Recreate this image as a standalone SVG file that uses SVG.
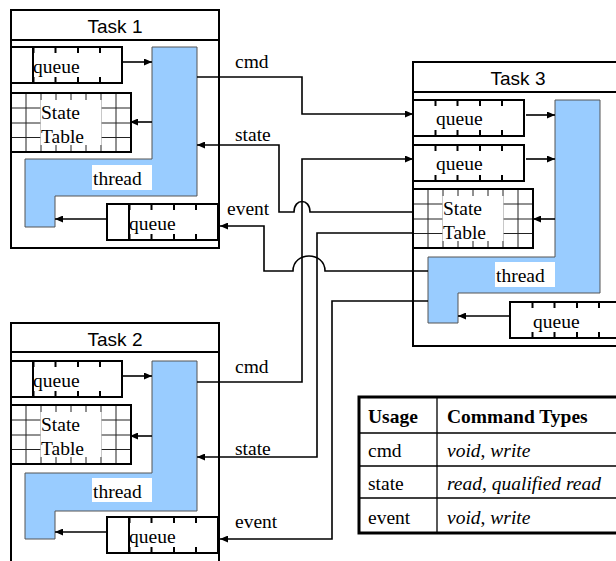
<svg xmlns="http://www.w3.org/2000/svg" xmlns:xlink="http://www.w3.org/1999/xlink" width="616" height="561" viewBox="0 0 616 561">
  <style>
    .box { fill: #fff; stroke: #000; stroke-width: 2; }
    .frame { fill: none; stroke: #000; stroke-width: 2; }
    .title { font-family: "Liberation Sans", Arial, sans-serif; font-size: 19px; text-anchor: middle; fill: #000; }
    .lbl { font-family: "Liberation Serif", "Times New Roman", serif; font-size: 19.5px; fill: #000; }
    .bold { font-weight: bold; }
    .it { font-style: italic; }
    .thread { fill: #99ccff; stroke: #555; stroke-width: 1; }
    .wbg { fill: #fff; stroke: none; }
    .grid { stroke: #222; stroke-width: 1; }
    .tick { stroke: #000; stroke-width: 2; }
    .conn { fill: none; stroke: #000; stroke-width: 1.6; }
  </style>
  <defs>
    <marker id="arrow" markerUnits="userSpaceOnUse" markerWidth="9" markerHeight="7" refX="8" refY="3.5" orient="auto">
      <path d="M0,0 L8,3.5 L0,7 z" fill="#000"/>
    </marker>
    <!-- queue: slotted buffer, 111 x 36 -->
    <g id="queue">
      <rect x="0" y="0" width="111" height="36" fill="#fff" stroke="#000" stroke-width="2"/>
      <path class="tick" d="M22.5,0 v6 M22.5,36 v-6 M44.5,0 v6 M44.5,36 v-6 M67,0 v6 M67,36 v-6 M89,0 v6 M89,36 v-6"/>
    </g>
    <!-- state table: grid, 120 x 59, with a clear centre for its caption -->
    <g id="stateTable">
      <rect x="0" y="0" width="120" height="59" fill="#fff"/>
      <path class="grid" d="M0,15 H120 M0,30 H120 M0,44.5 H120 M15,0 V59 M30,0 V59 M45,0 V59 M60,0 V59 M75,0 V59 M90,0 V59 M105,0 V59"/>
      <rect class="wbg" x="29.5" y="7" width="61" height="45"/>
      <rect x="0" y="0" width="120" height="59" fill="none" stroke="#000" stroke-width="2"/>
    </g>
  </defs>

  <rect width="616" height="561" fill="#fff"/>

  <!-- Task 1 -->
  <g id="task1">
    <rect class="box" x="11" y="10" width="208" height="238"/>
    <line x1="11" y1="40" x2="219" y2="40" stroke="#000" stroke-width="2"/>
    <text class="title" x="115" y="33">Task 1</text>
    <g id="task1-queue-in">
      <use xlink:href="#queue" x="11" y="47"/>
      <line x1="33" y1="47" x2="33" y2="83" stroke="#000" stroke-width="2"/>
      <text class="lbl" x="33" y="73">queue</text>
    </g>
    <g id="task1-table">
      <use xlink:href="#stateTable" x="11" y="93"/>
      <text class="lbl" x="41" y="119">State</text>
      <text class="lbl" x="41" y="143">Table</text>
    </g>
    <g id="task1-thread">
      <polygon class="thread" points="152,47 197,47 197,196 55,196 55,227 25,227 25,159 152,159"/>
      <rect class="wbg" x="92" y="165" width="60" height="25"/>
      <text class="lbl" x="93" y="185">thread</text>
    </g>
    <g id="task1-queue-out">
      <use xlink:href="#queue" x="107" y="204"/>
      <line x1="129" y1="204" x2="129" y2="240" stroke="#000" stroke-width="2"/>
      <text class="lbl" x="129" y="230">queue</text>
    </g>
  </g>

  <!-- Task 2 (frame runs on past the lower edge) -->
  <g id="task2">
    <path class="frame" d="M11,561 V323 H219 V561"/>
    <line x1="11" y1="352" x2="219" y2="352" stroke="#000" stroke-width="2"/>
    <text class="title" x="115" y="346">Task 2</text>
    <g id="task2-queue-in">
      <use xlink:href="#queue" x="11" y="361"/>
      <line x1="33" y1="361" x2="33" y2="397" stroke="#000" stroke-width="2"/>
      <text class="lbl" x="33" y="387">queue</text>
    </g>
    <g id="task2-table">
      <use xlink:href="#stateTable" x="11" y="405"/>
      <text class="lbl" x="41" y="431">State</text>
      <text class="lbl" x="41" y="455">Table</text>
    </g>
    <g id="task2-thread">
      <polygon class="thread" points="152,361 197,361 197,511 55,511 55,539 25,539 25,473 152,473"/>
      <rect class="wbg" x="92" y="478" width="60" height="24"/>
      <text class="lbl" x="93" y="498">thread</text>
    </g>
    <g id="task2-queue-out">
      <use xlink:href="#queue" x="107" y="517"/>
      <line x1="129" y1="517" x2="129" y2="553" stroke="#000" stroke-width="2"/>
      <text class="lbl" x="129" y="543">queue</text>
    </g>
  </g>

  <!-- Task 3 (frame runs on past the right edge) -->
  <g id="task3">
    <rect class="box" x="413" y="62" width="210" height="284"/>
    <line x1="413" y1="92" x2="623" y2="92" stroke="#000" stroke-width="2"/>
    <text class="title" x="518" y="85">Task 3</text>
    <g id="task3-queue-cmd1">
      <use xlink:href="#queue" x="413" y="100"/>
      <text class="lbl" x="436" y="125">queue</text>
    </g>
    <g id="task3-queue-cmd2">
      <use xlink:href="#queue" x="413" y="145"/>
      <text class="lbl" x="436" y="170">queue</text>
    </g>
    <g id="task3-table">
      <use xlink:href="#stateTable" x="413" y="189"/>
      <text class="lbl" x="443" y="215">State</text>
      <text class="lbl" x="443" y="239">Table</text>
    </g>
    <g id="task3-thread">
      <polygon class="thread" points="555,100 600,100 600,293 458,293 458,323 428,323 428,257 555,257"/>
      <rect class="wbg" x="495" y="262" width="60" height="25"/>
      <text class="lbl" x="496" y="282">thread</text>
    </g>
    <g id="task3-queue-in">
      <use xlink:href="#queue" x="510" y="302"/>
      <text class="lbl" x="533" y="328">queue</text>
    </g>
  </g>

  <!-- Connectors -->
  <g id="connectors" class="conn" marker-end="url(#arrow)">
    <!-- inside Task 1 -->
    <path d="M122,62 H152"/>
    <path d="M152,122 H130"/>
    <path d="M107,219 H55"/>
    <!-- inside Task 2 -->
    <path d="M122,376 H152"/>
    <path d="M152,436 H130"/>
    <path d="M107,532 H55"/>
    <!-- inside Task 3 -->
    <path d="M526,115 H555"/>
    <path d="M526,159 H555"/>
    <path d="M555,219 H533"/>
    <path d="M510,316 H458"/>
    <!-- Task 1 cmd to Task 3 -->
    <path d="M197,77 H302 V114 H413"/>
    <!-- Task 3 state to Task 1 (hops the cmd riser) -->
    <path d="M413,212 H310 C310,198 294,198 294,212 H279 V145 H197"/>
    <!-- Task 3 event to Task 1 (hops two risers) -->
    <path d="M428,271 H325 C325,251 293,251 293,271 H264 V226 H220"/>
    <!-- Task 2 cmd to Task 3 -->
    <path d="M197,382 H302 V159 H413"/>
    <!-- Task 3 state to Task 2 -->
    <path d="M413,233 H317 V457 H197"/>
    <!-- Task 3 event to Task 2 -->
    <path d="M428,301 H332 V539 H220"/>
  </g>

  <!-- connector labels -->
  <g id="connector-labels" class="lbl">
    <text x="235" y="68">cmd</text>
    <text x="235" y="141">state</text>
    <text x="227" y="215">event</text>
    <text x="235" y="373">cmd</text>
    <text x="235" y="455">state</text>
    <text x="235" y="528">event</text>
  </g>

  <!-- Usage table -->
  <g id="usage-table">
    <rect x="359" y="397" width="264" height="136" fill="#fff" stroke="#000" stroke-width="3"/>
    <path d="M359,433 H623 M359,466 H623 M359,498 H623 M437,397 V533" stroke="#000" stroke-width="1.3" fill="none"/>
    <text class="lbl bold" x="368" y="423">Usage</text>
    <text class="lbl bold" x="447" y="423">Command Types</text>
    <text class="lbl" x="368" y="457">cmd</text>
    <text class="lbl" x="447" y="457"><tspan class="it">void</tspan>, <tspan class="it">write</tspan></text>
    <text class="lbl" x="368" y="490">state</text>
    <text class="lbl" x="447" y="490"><tspan class="it">read</tspan>, <tspan class="it">qualified read</tspan></text>
    <text class="lbl" x="368" y="524">event</text>
    <text class="lbl" x="447" y="524"><tspan class="it">void</tspan>, <tspan class="it">write</tspan></text>
  </g>
</svg>
